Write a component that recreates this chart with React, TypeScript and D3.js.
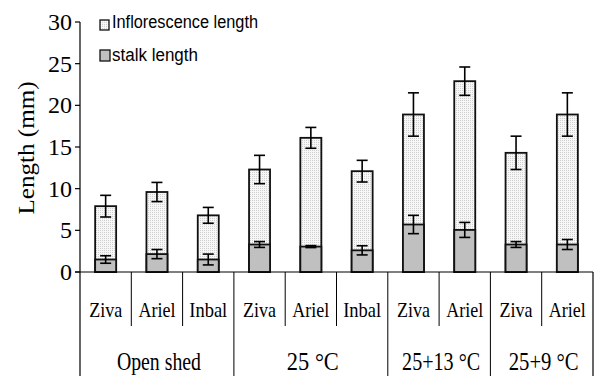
import React from "react";
import * as d3 from "d3";

const categories = ["Ziva", "Ariel", "Inbal", "Ziva", "Ariel", "Inbal", "Ziva", "Ariel", "Ziva", "Ariel"];
const groups = ["Open shed", "25 °C", "25+13 °C", "25+9 °C"];
const groupSizes = [3, 3, 2, 2];
const inflorescence = [7.9, 9.6, 6.8, 12.3, 16.1, 12.1, 18.9, 22.9, 14.3, 18.9];
const inflorescenceErr = [1.3, 1.15, 0.95, 1.7, 1.25, 1.3, 2.6, 1.7, 2.0, 2.6];
const stalk = [1.5, 2.15, 1.5, 3.3, 3.05, 2.6, 5.7, 5.05, 3.3, 3.3];
const stalkErr = [0.45, 0.55, 0.65, 0.35, 0.12, 0.55, 1.1, 0.9, 0.35, 0.6];
const yTicks = [0, 5, 10, 15, 20, 25, 30];
const legendLabels = ["Inflorescence length", "stalk length"];

const catTextLen: Record<string, number> = { Ziva: 33, Ariel: 37, Inbal: 38 };
const groupTextLen = [84, 52, 78, 70];

const serifStyle = { fontFamily: '"Liberation Serif", "Times New Roman", serif' };
const sansStyle = { fontFamily: '"Liberation Sans", Arial, sans-serif' };

export default function App() {
  const W = 600, H = 376;
  const x0 = 80, x1 = 593;
  const y = d3.scaleLinear().domain([0, 30]).range([272, 22]);
  const x = d3.scaleBand<number>().domain(d3.range(categories.length)).range([x0, x1]).paddingInner(0).paddingOuter(0);
  const bw = 21;
  const cap = 5.5;

  const groupStarts: number[] = [];
  let acc = 0;
  groupSizes.forEach((s) => { groupStarts.push(acc); acc += s; });

  const errBar = (cx: number, v: number, e: number, key: string) => (
    <g key={key} stroke="#000" strokeWidth={1.6}>
      <line x1={cx} x2={cx} y1={y(v + e)} y2={y(v - e)} />
      <line x1={cx - cap} x2={cx + cap} y1={y(v + e)} y2={y(v + e)} />
      <line x1={cx - cap} x2={cx + cap} y1={y(v - e)} y2={y(v - e)} />
    </g>
  );

  return (
    <div style={{ position: "absolute", left: 0, top: 0 }}>
      <svg width={W} height={H} style={{ display: "block" }}>
        <defs>
          <pattern id="dots" width="2" height="2" patternUnits="userSpaceOnUse">
            <rect width="2" height="2" fill="#f7f7f7" />
            <rect width="1" height="1" fill="#cfcfcf" />
          </pattern>
        </defs>
        <rect width={W} height={H} fill="#fff" />

        {categories.map((c, i) => {
          const cx = (x(i) as number) + x.bandwidth() / 2;
          return (
            <g key={"b" + i}>
              <rect x={cx - bw / 2} y={y(inflorescence[i])} width={bw} height={y(0) - y(inflorescence[i])}
                fill="url(#dots)" stroke="#111" strokeWidth={1.8} />
              <rect x={cx - bw / 2} y={y(stalk[i])} width={bw} height={y(0) - y(stalk[i])}
                fill="#c0c0c0" stroke="#111" strokeWidth={1.8} />
              {errBar(cx, inflorescence[i], inflorescenceErr[i], "ei" + i)}
              {errBar(cx, stalk[i], stalkErr[i], "es" + i)}
            </g>
          );
        })}

        <line x1={x0} x2={x0} y1={y(30)} y2={H} stroke="#000" strokeWidth={1.2} />
        {yTicks.map((t) => (
          <g key={"t" + t}>
            <line x1={x0 - 5} x2={x0} y1={y(t)} y2={y(t)} stroke="#000" strokeWidth={1.2} />
            <text x={72} y={y(t) + 8} textAnchor="end" style={serifStyle} fontSize={24} fill="#000">{t}</text>
          </g>
        ))}
        <text transform={`translate(34,148) rotate(-90)`} textAnchor="middle" style={serifStyle} fontSize={24}
          textLength={133} lengthAdjust="spacingAndGlyphs" fill="#000">Length (mm)</text>

        <line x1={x0 - 5} x2={x1} y1={y(0)} y2={y(0)} stroke="#000" strokeWidth={1.2} />

        {categories.map((c, i) => {
          const left = x(i) as number;
          const isGroupStart = groupStarts.includes(i);
          const cx = left + x.bandwidth() / 2;
          return (
            <g key={"c" + i}>
              {i > 0 && !isGroupStart && (
                <line x1={left} x2={left} y1={y(0)} y2={326} stroke="#000" strokeWidth={1} />
              )}
              <text x={cx} y={317} textAnchor="middle" style={serifStyle} fontSize={22}
                textLength={catTextLen[c]} lengthAdjust="spacingAndGlyphs" fill="#000">{c}</text>
            </g>
          );
        })}
        {groups.map((g, gi) => {
          const s = groupStarts[gi];
          const e = s + groupSizes[gi];
          const left = x(s) as number;
          const right = e < categories.length ? (x(e) as number) : x1;
          return (
            <g key={"g" + gi}>
              {gi > 0 && <line x1={left} x2={left} y1={y(0)} y2={H} stroke="#000" strokeWidth={1} />}
              <text x={(left + right) / 2 + 2} y={370} textAnchor="middle" style={serifStyle} fontSize={25}
                textLength={groupTextLen[gi]} lengthAdjust="spacingAndGlyphs" fill="#000">{g}</text>
            </g>
          );
        })}
        <line x1={x1} x2={x1} y1={y(0)} y2={H} stroke="#000" strokeWidth={1.2} />

        <rect x={100} y={20} width={9} height={10} fill="url(#dots)" stroke="#111" strokeWidth={1.3} />
        <text x={112} y={28} style={sansStyle} fontSize={18} textLength={146} lengthAdjust="spacingAndGlyphs" fill="#000">{legendLabels[0]}</text>
        <rect x={100} y={50} width={10} height={11} fill="#c0c0c0" stroke="#111" strokeWidth={1.3} />
        <text x={112} y={61} style={sansStyle} fontSize={18} textLength={86} lengthAdjust="spacingAndGlyphs" fill="#000">{legendLabels[1]}</text>
      </svg>
    </div>
  );
}
